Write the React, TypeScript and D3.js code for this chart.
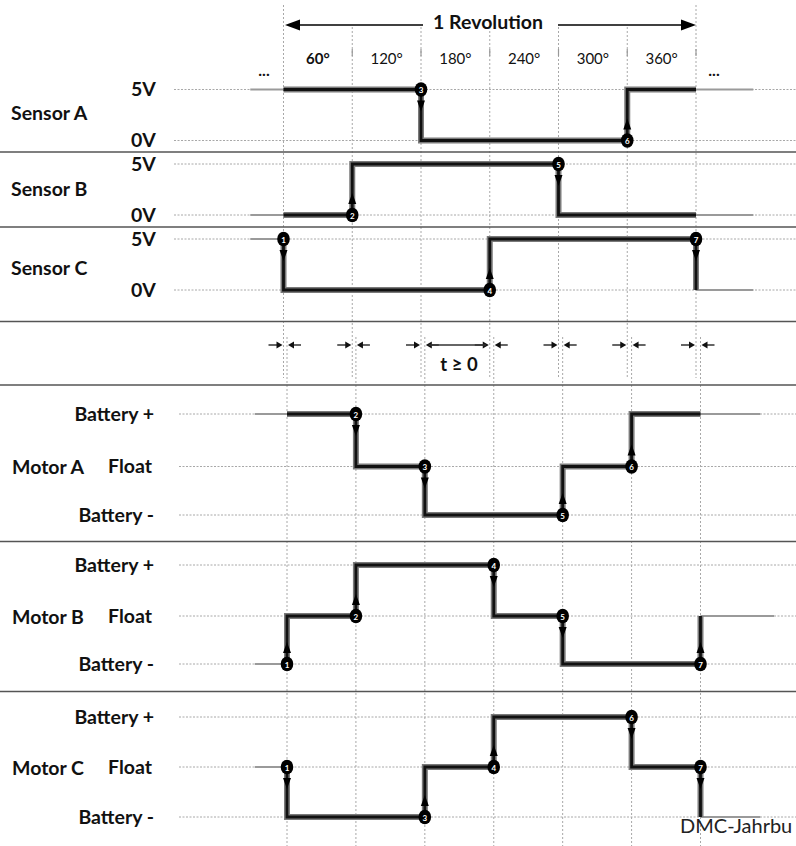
import React from 'react';
import * as d3 from 'd3';

// ---- data ----
const angleTicks = [0, 60, 120, 180, 240, 300, 360];
const angleLabels = ['60°', '120°', '180°', '240°', '300°', '360°'];
const sensorNames = ['Sensor A', 'Sensor B', 'Sensor C'];
const sensorLevelLabels = ['0V', '5V'];
const motorNames = ['Motor A', 'Motor B', 'Motor C'];
const motorLevelLabels = ['Battery -', 'Float', 'Battery +'];

// transitions: [angle, new level, marker number]
const sensorStart = [1, 0, 1];
const sensorA = [[120, 0, 3], [300, 1, 6]];
const sensorB = [[60, 1, 2], [240, 0, 5]];
const sensorC = [[0, 0, 1], [180, 1, 4], [360, 0, 7]];
const sensorTrans = [sensorA, sensorB, sensorC];

// motor levels: 0 = Battery -, 1 = Float, 2 = Battery +
const motorStart = [2, 0, 1];
const motorA = [[60, 1, 2], [120, 0, 3], [240, 1, 5], [300, 2, 6]];
const motorB = [[0, 1, 1], [60, 2, 2], [180, 1, 4], [240, 0, 5], [360, 1, 7]];
const motorC = [[0, 0, 1], [120, 1, 3], [180, 2, 4], [300, 1, 6], [360, 0, 7]];
const motorTrans = [motorA, motorB, motorC];

const footnote = 'DMC-Jahrbu';

// ---- layout ----
const W = 796, H = 846;
const FONT = 'Lato, "Open Sans", sans-serif';
const xU = d3.scaleLinear().domain([0, 360]).range([283.5, 696]);
const xL = d3.scaleLinear().domain([0, 360]).range([287, 700.5]);
const sensorY = [[140.5, 89.5], [215, 164], [290, 239]];
const sensorLabelY = [112, 188, 267];
const motorY = [[515, 466.5, 414], [664, 616, 565], [817, 767, 717]];
const separators = [152, 227, 321.5, 385, 541.5, 691.5];
const line = d3.line();
const LBL = 19.5;

function tri(x: number, y: number, dx: number, dy: number, len: number, hw: number) {
  const bx = x - dx * len, by = y - dy * len;
  const px = -dy * hw, py = dx * hw;
  return `M${x},${y}L${bx + px},${by + py}L${bx - px},${by - py}Z`;
}

function Trace({ x, y, start, trans, lead, trail }: any) {
  const pts: [number, number][] = [[x(0), y(start)]];
  let cur = start;
  const markers: any[] = [];
  const arrows: any[] = [];
  for (const [a, nl, n] of trans) {
    pts.push([x(a), y(cur)]);
    pts.push([x(a), y(nl)]);
    markers.push({ x: x(a), y: y(cur), n });
    arrows.push({ x: x(a), y0: y(cur), dir: Math.sign(y(nl) - y(cur)) });
    cur = nl;
  }
  pts.push([x(360), y(cur)]);
  const leadPts: [number, number][] = [[x(lead), y(start)], [x(0), y(start)]];
  const trailPts: [number, number][] = [[x(360), y(cur)], [x(trail), y(cur)]];
  return (
    <g>
      <path d={line(leadPts)!} stroke="#9a9a9a" strokeWidth={2} fill="none" />
      <path d={line(trailPts)!} stroke="#9a9a9a" strokeWidth={2} fill="none" />
      <path d={line(pts)!} stroke="#7a7a7a" strokeWidth={6} fill="none" strokeLinejoin="miter" />
      <path d={line(pts)!} stroke="#111" strokeWidth={2.8} fill="none" strokeLinejoin="miter" />
      {arrows.map((a, i) => (
        <path key={i} d={tri(a.x, a.y0 + a.dir * 22, 0, a.dir, 11, 4)} fill="#000" />
      ))}
      {markers.map((m, i) => (
        <g key={i}>
          <ellipse cx={m.x} cy={m.y} rx={6.3} ry={7.3} fill="#000" />
          <text x={m.x} y={m.y + 0.5} fill="#fff" fontSize={8} fontWeight="bold" fontFamily={FONT}
            textAnchor="middle" dominantBaseline="central">{m.n}</text>
        </g>
      ))}
    </g>
  );
}

export default function App() {
  const gridColor = '#a8a8a8';
  return (
    <svg width={W} height={H} viewBox={`0 0 ${W} ${H}`}
      style={{ position: 'absolute', left: 0, top: 0, background: '#fff' }}>
      <rect width={W} height={H} fill="#fff" />

      {angleTicks.map((a, i) => (
        <line key={'vu' + i} x1={xU(a)} x2={xU(a)} y1={a === 0 || a === 360 ? 5 : 27} y2={378}
          stroke={gridColor} strokeWidth={1} strokeDasharray="2,2" />
      ))}
      {angleTicks.slice(1).map((a, i) => (
        <line key={'tk' + i} x1={xU(a)} x2={xU(a)} y1={49} y2={56} stroke="#999" strokeWidth={1.2} />
      ))}
      {angleTicks.map((a, i) => (
        <line key={'vl' + i} x1={xL(a)} x2={xL(a)} y1={337} y2={H}
          stroke={gridColor} strokeWidth={1} strokeDasharray="2,2" />
      ))}

      {sensorY.map((ys, i) => ys.map((yy, j) => (
        <line key={`sg${i}${j}`} x1={174} x2={W} y1={yy} y2={yy} stroke={gridColor} strokeWidth={1} strokeDasharray="2,1.5" />
      )))}
      {motorY.map((ys, i) => ys.map((yy, j) => (
        <line key={`mg${i}${j}`} x1={179} x2={W} y1={yy} y2={yy} stroke={gridColor} strokeWidth={1} strokeDasharray="2,1.5" />
      )))}

      {separators.map((s, i) => (
        <line key={'sep' + i} x1={0} x2={W} y1={s} y2={s} stroke="#555" strokeWidth={1.6} />
      ))}

      <line x1={xU(0) + 10} x2={423} y1={25} y2={25} stroke="#000" strokeWidth={1.3} />
      <path d={tri(xU(0) + 1.5, 25, -1, 0, 15, 5.5)} fill="#000" />
      <line x1={558} x2={xU(360) - 10} y1={25} y2={25} stroke="#000" strokeWidth={1.3} />
      <path d={tri(xU(360), 25, 1, 0, 15, 5.5)} fill="#000" />
      <text x={488} y={29} textAnchor="middle" fontFamily={FONT} fontWeight="bold" fontSize={19.5} fill="#111">1 Revolution</text>

      {angleLabels.map((l, i) => (
        <text key={'al' + i} x={(xU(angleTicks[i]) + xU(angleTicks[i + 1])) / 2} y={64}
          textAnchor="middle" fontFamily={FONT} fontSize={15} fontWeight={i === 0 ? 'bold' : 'normal'} fill="#111">{l}</text>
      ))}
      <text x={264} y={76} textAnchor="middle" fontFamily={FONT} fontSize={16} fontWeight="bold" fill="#111">...</text>
      <text x={714} y={76} textAnchor="middle" fontFamily={FONT} fontSize={16} fontWeight="bold" fill="#111">...</text>

      {sensorNames.map((n, i) => (
        <g key={'sn' + i}>
          <text x={11} y={sensorLabelY[i]} dominantBaseline="central" fontFamily={FONT} fontWeight="bold" fontSize={LBL} fill="#111">{n}</text>
          {sensorLevelLabels.map((l, j) => (
            <text key={j} x={131} y={sensorY[i][j] - 1} dominantBaseline="central" fontFamily={FONT} fontWeight="bold" fontSize={LBL} fill="#111">{l}</text>
          ))}
        </g>
      ))}

      {motorNames.map((n, i) => (
        <g key={'mn' + i}>
          <text x={12} y={motorY[i][1]} dominantBaseline="central" fontFamily={FONT} fontWeight="bold" fontSize={LBL} fill="#111">{n}</text>
          {motorLevelLabels.map((l, j) => (
            <text key={j} x={j === 1 ? 152 : 154} y={motorY[i][j] - 1} textAnchor="end" dominantBaseline="central"
              fontFamily={FONT} fontWeight="bold" fontSize={LBL} fill="#111">{l}</text>
          ))}
        </g>
      ))}

      {angleTicks.map((a, i) => (
        <g key={'ta' + i}>
          <line x1={xU(a) - 15} x2={xU(a) - 4} y1={345} y2={345} stroke="#333" strokeWidth={1.5} />
          <path d={tri(xU(a) - 1, 345, 1, 0, 6, 3.5)} fill="#111" />
          <line x1={xL(a) + 4} x2={xL(a) + 14} y1={345} y2={345} stroke="#333" strokeWidth={1.5} />
          <path d={tri(xL(a) + 1, 345, -1, 0, 6, 3.5)} fill="#111" />
        </g>
      ))}
      <line x1={xL(120) + 4} x2={xU(180) - 4} y1={345} y2={345} stroke="#333" strokeWidth={1.5} />
      <text x={459} y={371} textAnchor="middle" fontFamily={FONT} fontWeight="bold" fontSize={18.5} fill="#111">t ≥ 0</text>

      {sensorTrans.map((t, i) => (
        <Trace key={'st' + i} x={xU} y={d3.scaleLinear().domain([0, 1]).range(sensorY[i])}
          start={sensorStart[i]} trans={t} lead={-29} trail={410} />
      ))}

      {motorTrans.map((t, i) => (
        <Trace key={'mt' + i} x={xL} y={d3.scaleLinear().domain([0, 1, 2]).range(motorY[i])}
          start={motorStart[i]} trans={t} lead={-28} trail={i === 1 ? 424 : 412} />
      ))}

      <text x={680} y={833} fontFamily={FONT} fontSize={20} fill="#222">{footnote}</text>
    </svg>
  );
}
